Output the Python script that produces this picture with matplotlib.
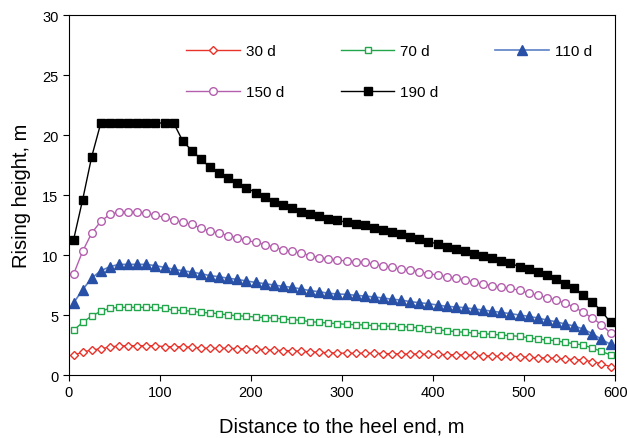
import numpy as np
import matplotlib.pyplot as plt

plt.rcParams['font.family'] = ['Liberation Sans', 'DejaVu Sans']

# distance along the well, m
dist = np.arange(5, 600, 10)

# rising height, m, at each day
h30 = [1.64, 1.92, 2.08, 2.19, 2.33, 2.42, 2.44, 2.44, 2.44, 2.44,
       2.36, 2.36, 2.36, 2.31, 2.25, 2.22, 2.22, 2.22, 2.19, 2.17,
       2.14, 2.11, 2.06, 2.03, 2.03, 1.97, 1.94,
       1.89, 1.86, 1.83, 1.81, 1.81, 1.81, 1.81, 1.78, 1.78, 1.75,
       1.75, 1.75, 1.72, 1.72, 1.69, 1.69, 1.67, 1.64, 1.61, 1.58,
       1.56, 1.56, 1.53, 1.47, 1.44, 1.42, 1.39, 1.33, 1.28, 1.25,
       1.11, 0.94, 0.69]
h70 = [3.72, 4.39, 4.92, 5.31, 5.56, 5.64, 5.64, 5.64, 5.64, 5.64,
       5.56, 5.39, 5.39, 5.31, 5.22, 5.17, 5.11, 5.00, 4.94, 4.89,
       4.83, 4.78, 4.75, 4.67, 4.61, 4.56, 4.44,
       4.39, 4.33, 4.28, 4.22, 4.19, 4.17, 4.11, 4.08, 4.06, 4.03,
       4.00, 3.92, 3.86, 3.78, 3.69, 3.61, 3.56, 3.50, 3.44, 3.39,
       3.33, 3.28, 3.22, 3.11, 3.00, 2.92, 2.86, 2.72, 2.61, 2.50,
       2.25, 1.97, 1.67]
h110 = [6.00, 7.11, 8.08, 8.69, 9.03, 9.22, 9.22, 9.22, 9.22, 9.11,
        8.97, 8.81, 8.69, 8.58, 8.44, 8.28, 8.19, 8.06, 7.97, 7.83,
        7.72, 7.61, 7.50, 7.39, 7.31, 7.17, 7.03,
        6.94, 6.81, 6.75, 6.72, 6.64, 6.58, 6.50, 6.42, 6.31, 6.25,
        6.11, 6.03, 5.94, 5.83, 5.72, 5.67, 5.61, 5.50, 5.42, 5.31,
        5.22, 5.11, 5.00, 4.89, 4.75, 4.58, 4.44, 4.25, 4.08, 3.83,
        3.44, 2.97, 2.56]
h150 = [8.39, 10.31, 11.83, 12.81, 13.39, 13.58, 13.58, 13.58, 13.50, 13.31,
        13.14, 12.92, 12.72, 12.56, 12.22, 12.00, 11.83, 11.61, 11.42, 11.22,
        11.06, 10.86, 10.67, 10.44, 10.31, 10.17, 9.94,
        9.78, 9.67, 9.58, 9.50, 9.44, 9.39, 9.22, 9.11, 8.97, 8.83,
        8.75, 8.61, 8.44, 8.33, 8.19, 8.08, 7.92, 7.72, 7.58, 7.44,
        7.33, 7.22, 7.06, 6.83, 6.64, 6.44, 6.25, 5.97, 5.67, 5.22,
        4.75, 4.19, 3.50]
h190 = [11.25, 14.6, 18.2, 21.0, 21.0, 21.0, 21.0, 21.0, 21.0, 21.0,
        21.0, 21.0, 19.5, 18.7, 18.0, 17.3, 16.8, 16.4, 16.0, 15.6,
        15.2, 14.8, 14.4, 14.2, 13.9,
        13.61, 13.42, 13.22, 13.00, 12.89, 12.72, 12.61, 12.53, 12.28, 12.08,
        11.92, 11.72, 11.53, 11.33, 11.11, 10.92, 10.69, 10.50, 10.33, 10.11,
        9.92, 9.72, 9.53, 9.31, 9.03, 8.83, 8.56, 8.31, 8.00, 7.61,
        7.22, 6.69, 6.08, 5.33, 4.39]

fig = plt.figure(figsize=(6.27, 4.39), dpi=100)
ax = fig.add_axes([0.110, 0.1435, 0.871, 0.820])

l30, = ax.plot(dist, h30, color='#e8332b', lw=1, marker='D', ms=4.5,
               mfc='white', mec='#e8332b', mew=1, label='30 d')
l70, = ax.plot(dist, h70, color='#21a64b', lw=1, marker='s', ms=5,
               mfc='white', mec='#21a64b', mew=1, label='70 d')
l110, = ax.plot(dist, h110, color='#5b7fc4', lw=1.2, marker='^', ms=7,
                mfc='#2850a6', mec='#2850a6', label='110 d')
l150, = ax.plot(dist, h150, color='#b45fae', lw=1, marker='o', ms=5.5,
                mfc='white', mec='#b45fae', mew=1, label='150 d')
l190, = ax.plot(dist, h190, color='black', lw=1, marker='s', ms=6,
                mfc='black', mec='black', label='190 d')

ax.set_xlim(0, 600)
ax.set_ylim(0, 30)
ax.set_xticks(np.arange(0, 601, 100))
ax.set_yticks(np.arange(0, 31, 5))
ax.tick_params(direction='out', length=4, labelsize=10.5, top=False, right=False)
ax.set_xlabel('Distance to the heel end, m', fontsize=14.5, labelpad=12)
ax.set_ylabel('Rising height, m', fontsize=14.5, labelpad=8)

ax.legend([l30, l150, l70, l190, l110],
          ['30 d', '150 d', '70 d', '190 d', '110 d'],
          ncol=3, frameon=False, fontsize=11, handlelength=3.5,
          handletextpad=0.4, columnspacing=3.7, labelspacing=1.75,
          loc='upper left', bbox_to_anchor=(0.19, 0.957))

fig.savefig('out.png', dpi=100)
